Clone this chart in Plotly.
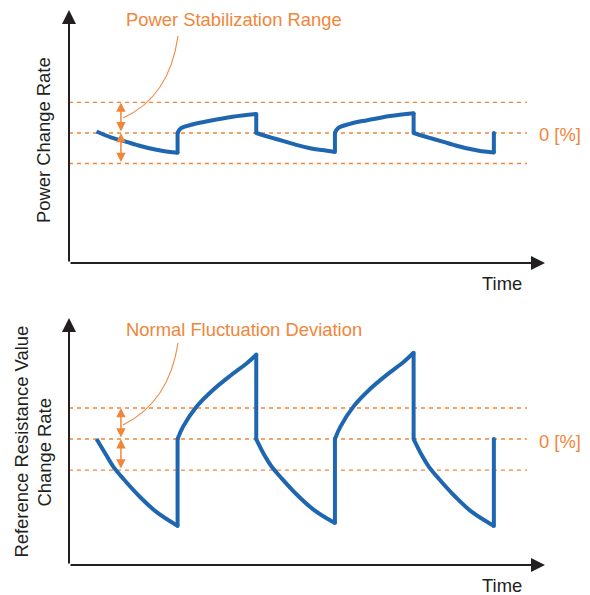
import plotly.graph_objects as go

# ---------------- data ----------------
time_power = [0.35, 0.54, 0.73, 0.86, 1.02, 1.18, 1.38,
              1.38, 1.42, 1.57, 1.79, 2.08, 2.38,
              2.38, 2.57, 2.76, 2.89, 3.05, 3.21, 3.38,
              3.38, 3.42, 3.57, 3.79, 4.08, 4.38,
              4.38, 4.57, 4.76, 4.89, 5.05, 5.21, 5.40, 5.40]
power_rate = [0.05, -0.15, -0.29, -0.39, -0.50, -0.58, -0.65,
              0.0, 0.15, 0.28, 0.40, 0.53, 0.62,
              0.0, -0.15, -0.29, -0.39, -0.49, -0.56, -0.62,
              0.0, 0.16, 0.30, 0.42, 0.56, 0.65,
              0.0, -0.15, -0.29, -0.39, -0.50, -0.58, -0.64, 0.0]

time_resist = [0.35, 0.48, 0.56, 0.69, 0.90, 1.11, 1.38,
               1.38, 1.45, 1.62, 1.83, 2.05, 2.26, 2.38,
               2.38, 2.49, 2.57, 2.70, 2.91, 3.12, 3.38,
               3.38, 3.45, 3.62, 3.83, 4.05, 4.26, 4.38,
               4.38, 4.49, 4.57, 4.70, 4.91, 5.12, 5.40, 5.40]
resist_rate = [0.0, -0.55, -0.88, -1.28, -1.86, -2.35, -2.80,
               0.0, 0.40, 1.04, 1.58, 2.04, 2.44, 2.72,
               0.0, -0.55, -0.87, -1.26, -1.83, -2.30, -2.71,
               0.0, 0.40, 1.06, 1.62, 2.09, 2.50, 2.78,
               0.0, -0.55, -0.88, -1.28, -1.86, -2.35, -2.80, 0.0]

band_levels = [1, 0, -1]
zero_label = "0 [%]"
time_label = "Time"
top_ylabel = "Power Change Rate"
bottom_ylabel_lines = ["Reference Resistance Value", "Change Rate"]
top_note = "Power Stabilization Range"
bottom_note = "Normal Fluctuation Deviation"

# ---------------- style ----------------
W, H = 590, 595
BLUE = "#1F66B1"
ORANGE = "#F0863A"
DARK = "#231F20"
FONT = "Liberation Sans, Arial, sans-serif"
FS = 18.4

XMAX = 6.05
BAND_END = 5.82
Y1 = (-4.26, 4.03)
Y2 = (-4.06, 3.90)


def px(x):
    return x / W


def py(y):
    return 1 - y / H


fig = go.Figure()


def add_curve(xs, ys, xa, ya):
    """Smooth runs drawn as splines, jumps (equal x) drawn straight."""
    run_x, run_y = [xs[0]], [ys[0]]
    for i in range(1, len(xs)):
        if xs[i] == xs[i - 1]:
            if len(run_x) > 1:
                fig.add_trace(go.Scatter(x=run_x, y=run_y, mode="lines",
                                         line=dict(color=BLUE, width=4, shape="spline", smoothing=1.0),
                                         xaxis=xa, yaxis=ya, hoverinfo="skip"))
            fig.add_trace(go.Scatter(x=[xs[i - 1], xs[i]], y=[ys[i - 1], ys[i]],
                                     mode="lines+markers", line=dict(color=BLUE, width=4),
                                     marker=dict(color=BLUE, size=4),
                                     xaxis=xa, yaxis=ya, hoverinfo="skip"))
            run_x, run_y = [xs[i]], [ys[i]]
        else:
            run_x.append(xs[i])
            run_y.append(ys[i])
    if len(run_x) > 1:
        fig.add_trace(go.Scatter(x=run_x, y=run_y, mode="lines",
                                 line=dict(color=BLUE, width=4, shape="spline", smoothing=1.0),
                                 xaxis=xa, yaxis=ya, hoverinfo="skip"))


add_curve(time_power, power_rate, "x", "y")
add_curve(time_resist, resist_rate, "x2", "y2")

shapes = []
annotations = []
for xr, yr in (("x", "y"), ("x2", "y2")):
    for lv in band_levels:
        shapes.append(dict(type="line", xref=xr, yref=yr, x0=0, x1=BAND_END,
                           y0=lv, y1=lv, line=dict(color=ORANGE, width=1.3, dash="4px,4px"),
                           layer="below"))

# axis arrows
for xr, yr, (ymin, ymax) in (("x", "y", Y1), ("x2", "y2", Y2)):
    annotations.append(dict(x=XMAX, y=ymin, ax=0, ay=ymin, xref=xr, yref=yr,
                            axref=xr, ayref=yr, text="", showarrow=True,
                            arrowhead=2, arrowsize=1.4, arrowwidth=2, arrowcolor=DARK))
    annotations.append(dict(x=0, y=ymax, ax=0, ay=ymin, xref=xr, yref=yr,
                            axref=xr, ayref=yr, text="", showarrow=True,
                            arrowhead=2, arrowsize=1.4, arrowwidth=2, arrowcolor=DARK))
    # double arrows on band
    for a, b in ((band_levels[0], band_levels[1]), (band_levels[1], band_levels[2])):
        annotations.append(dict(x=0.66, y=a, ax=0.66, ay=b, xref=xr, yref=yr,
                                axref=xr, ayref=yr, text="", showarrow=True,
                                arrowside="end+start", arrowhead=2, startarrowhead=2,
                                arrowsize=1.25, startarrowsize=1.25, arrowwidth=1.5,
                                arrowcolor=ORANGE))

# leader curves (paper coordinates)
for (x0, y0), (cx, cy), (x1, y1) in (((178, 36), (169.5, 97), (123, 118)),
                                     ((178, 343), (169.2, 402), (123, 425))):
    shapes.append(dict(type="path", xref="paper", yref="paper",
                       path=f"M {px(x0)} {py(y0)} Q {px(cx)} {py(cy)} {px(x1)} {py(y1)}",
                       line=dict(color=ORANGE, width=1.1)))


def txt(text, x, y, color, xanchor="left", angle=0, size=FS):
    return dict(text=text, x=px(x), y=py(y), xref="paper", yref="paper",
                xanchor=xanchor, yanchor="middle", showarrow=False, textangle=angle,
                font=dict(family=FONT, size=size, color=color))


annotations += [
    txt(top_note, 124, 19, ORANGE),
    txt(bottom_note, 124, 329, ORANGE),
    txt(zero_label, 537, 134, ORANGE),
    txt(zero_label, 537, 441, ORANGE),
    txt(time_label, 502, 283, DARK, xanchor="center"),
    txt(time_label, 502, 585, DARK, xanchor="center"),
    txt(top_ylabel, 43, 140, DARK, xanchor="center", angle=-90),
    txt(bottom_ylabel_lines[0], 21, 441.5, DARK, xanchor="center", angle=-90),
    txt(bottom_ylabel_lines[1], 44, 452.5, DARK, xanchor="center", angle=-90),
]

axis_common = dict(visible=False, showgrid=False, zeroline=False, fixedrange=True)
fig.update_layout(
    width=W, height=H,
    margin=dict(l=0, r=0, t=0, b=0),
    paper_bgcolor="white", plot_bgcolor="white",
    showlegend=False,
    xaxis=dict(domain=[px(69), px(545)], range=[0, XMAX], anchor="y", **axis_common),
    yaxis=dict(domain=[py(263), py(10)], range=list(Y1), anchor="x", **axis_common),
    xaxis2=dict(domain=[px(69), px(545)], range=[0, XMAX], anchor="y2", **axis_common),
    yaxis2=dict(domain=[py(565), py(318)], range=list(Y2), anchor="x2", **axis_common),
    shapes=shapes,
    annotations=annotations,
)

fig.write_html("out.html",
               config={"displayModeBar": False},
               post_script="document.body.style.margin='0';document.body.style.overflow='hidden';")
